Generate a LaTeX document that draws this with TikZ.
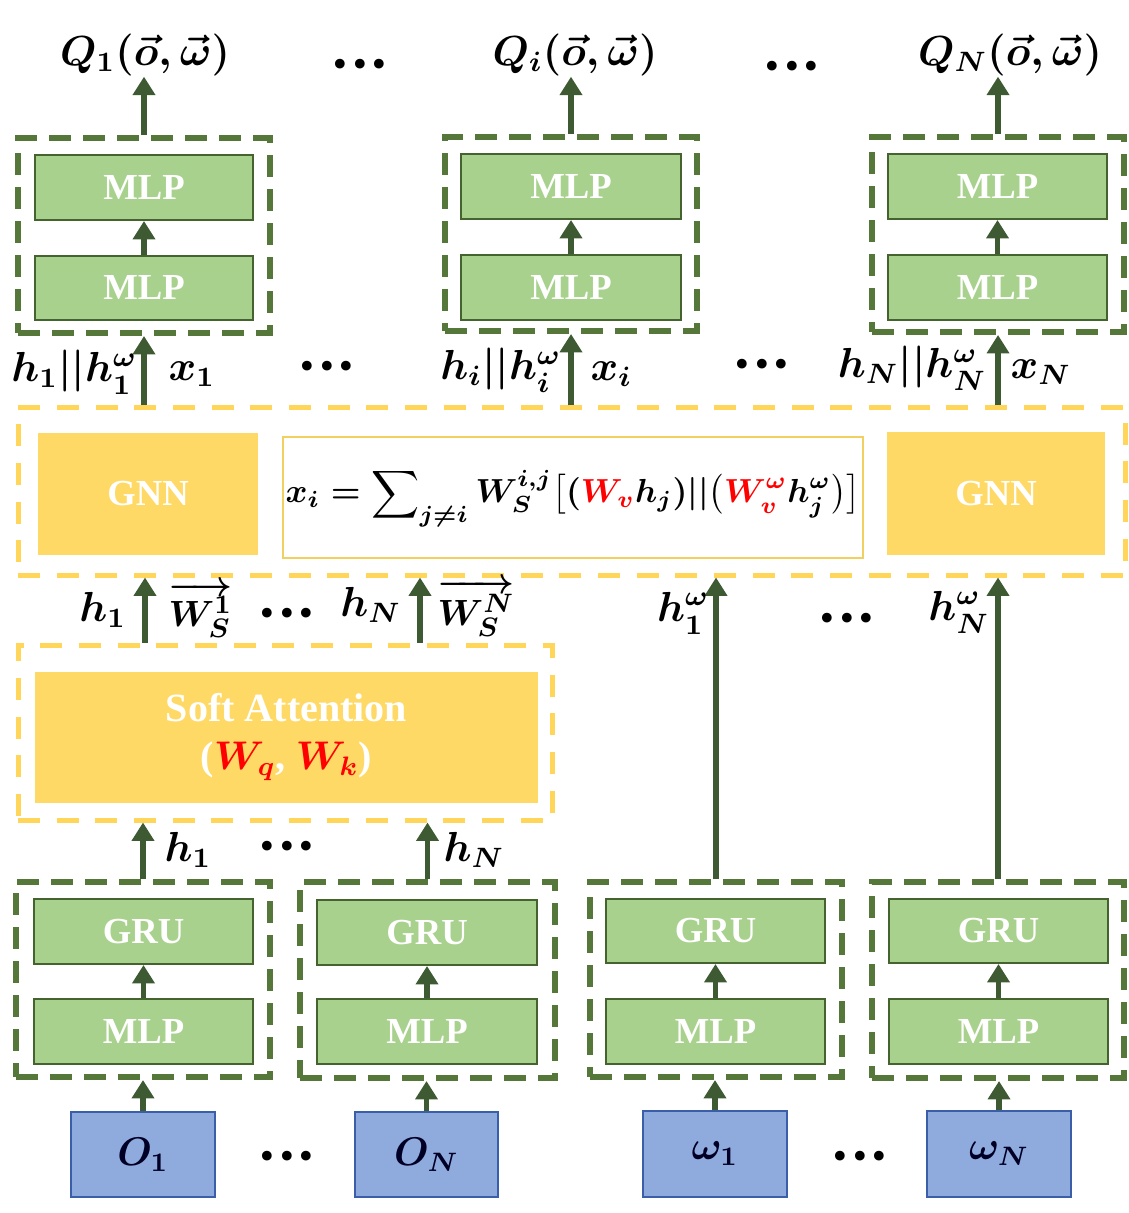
\documentclass[tikz,border=0pt]{standalone}
\usepackage{amsmath}
\usepackage{fontspec}
\newfontfamily\tnr{Liberation Serif}
\newfontfamily\djv{DejaVu Sans}
\usetikzlibrary{arrows.meta,calc}
\definecolor{gfill}{HTML}{A9D18E}
\definecolor{gline}{HTML}{44632E}
\definecolor{gdashc}{HTML}{55773A}
\definecolor{arrc}{HTML}{3D5A32}
\definecolor{yfill}{HTML}{FFD966}
\definecolor{ydashc}{HTML}{FFD659}
\definecolor{fline}{HTML}{F0D060}
\definecolor{bfill}{HTML}{8FAADC}
\definecolor{bline}{HTML}{3A5FA8}
% box from pixel corners: name, style, x1, y1, x2, y2, text
\newcommand\bx[7]{\node[#2, minimum width={(#5-#3)*0.3pt}, minimum height={(#6-#4)*0.3pt}] (#1) at ({(#3+#5)/2},{(#4+#6)/2}) {#7};}
\begin{document}
\begin{tikzpicture}[x=0.3pt,y=-0.3pt,
  gbox/.style={draw=gline, fill=gfill, line width=0.6pt, inner sep=0pt, text=white, font=\tnr\bfseries\fontsize{11}{13}\selectfont},
  gdash/.style={draw=gdashc, line width=1.8pt, dash pattern=on 6.6pt off 3.6pt, inner sep=0pt},
  ydash/.style={draw=ydashc, line width=1.5pt, dash pattern=on 6.6pt off 5pt, inner sep=0pt},
  ybox/.style={fill=yfill, inner sep=0pt, text=white, font=\tnr\bfseries\fontsize{11}{13}\selectfont},
  fbox/.style={draw=fline, fill=white, line width=0.6pt, inner sep=0pt, font=\fontsize{10}{12}\selectfont\boldmath},
  bbox/.style={draw=bline, fill=bfill, line width=0.6pt, inner sep=0pt, font=\fontsize{12}{14}\selectfont\boldmath, text=black!85!blue},
  arr/.style={draw=arrc, line width=1.6pt, -{Triangle[width=6.5pt,length=5.5pt]}},
  lbl/.style={inner sep=0pt, font=\fontsize{12}{14}\selectfont\boldmath, scale=1.05},
  slbl/.style={inner sep=0pt, font=\fontsize{10.95}{12}\selectfont\boldmath},
  dots/.style={inner sep=0pt, font=\djv\fontsize{10}{10}\selectfont}]
\useasboundingbox (0,0) rectangle (1128,1213);

% ---------- top heads ----------
\bx{hd1}{gdash}{18}{138}{270}{333}{}
\bx{m1a}{gbox}{35}{155}{253}{220}{MLP}
\bx{m1b}{gbox}{35}{256}{253}{320}{MLP}
\bx{hd2}{gdash}{445}{137}{697}{331}{}
\bx{m2a}{gbox}{461}{154}{681}{219}{MLP}
\bx{m2b}{gbox}{461}{255}{681}{320}{MLP}
\bx{hd3}{gdash}{872}{137}{1124}{332}{}
\bx{m3a}{gbox}{888}{154}{1107}{219}{MLP}
\bx{m3b}{gbox}{888}{255}{1107}{320}{MLP}

\node[lbl] (q1) at (145,55) {$Q_1(\vec{o},\vec{\omega})$};
\node[lbl] (qi) at (575,55) {$Q_i(\vec{o},\vec{\omega})$};
\node[lbl] (qn) at (1010,55) {$Q_N(\vec{o},\vec{\omega})$};
\node[dots] (dt1) at (360,68) {•••};
\node[dots] (dt2) at (792,70) {•••};

\draw[arr] (m1b.north) -- (m1a.south);
\draw[arr] (m2b.north) -- (m2a.south);
\draw[arr] (m3b.north) -- (m3a.south);
\draw[arr] (hd1.north) -- (hd1.north |- q1.south);
\draw[arr] (hd2.north) -- (hd2.north |- qi.south);
\draw[arr] (hd3.north) -- (hd3.north |- qn.south);

% ---------- GNN layer ----------
\bx{gnnbox}{ydash}{18}{408}{1125}{575}{}
\bx{gnn1}{ybox}{38}{433}{258}{555}{GNN}
\bx{form}{fbox}{283}{437}{863}{558}{$x_i=\displaystyle\sum\nolimits_{j\neq i} W_S^{i,j}\big[(\textcolor{red}{W_v}h_j)||\big(\textcolor{red}{W_v^{\omega}}h_j^{\omega}\big)\big]$}
\bx{gnn2}{ybox}{887}{432}{1105}{555}{GNN}

\draw[arr] (gnnbox.north -| hd1.south) -- (hd1.south);
\draw[arr] (gnnbox.north -| hd2.south) -- (hd2.south);
\draw[arr] (gnnbox.north -| hd3.south) -- (hd3.south);

\node[lbl, anchor=east] (l1) at (138,372) {$h_1||h_1^{\omega}$};
\node[lbl, anchor=west] (x1) at (168,374) {$x_1$};
\node[dots] (dt3) at (327,370) {•••};
\node[lbl, anchor=east] (li) at (562,370) {$h_i||h_i^{\omega}$};
\node[lbl, anchor=west] (xi) at (590,374) {$x_i$};
\node[dots] (dt4) at (762,368) {•••};
\node[lbl, anchor=east] (ln) at (987,368) {$h_N||h_N^{\omega}$};
\node[lbl, anchor=west] (xn) at (1010,372) {$x_N$};

% ---------- soft attention ----------
\bx{sabox}{ydash}{18}{645}{552}{820}{}
\bx{sa}{ybox, align=center, font=\tnr\bfseries\fontsize{12}{14.4}\selectfont}{35}{672}{538}{803}{Soft Attention\\(\textcolor{red}{\boldmath$W_q$}, \textcolor{red}{\boldmath$W_k$})}

% ---------- bottom encoders ----------
\bx{gA}{gdash}{16}{882}{270}{1077}{}
\bx{gruA}{gbox}{34}{899}{253}{964}{GRU}
\bx{mlpA}{gbox}{34}{999}{253}{1064}{MLP}
\bx{gB}{gdash}{300}{882}{555}{1078}{}
\bx{gruB}{gbox}{317}{900}{537}{965}{GRU}
\bx{mlpB}{gbox}{317}{999}{537}{1064}{MLP}
\bx{gC}{gdash}{590}{882}{842}{1077}{}
\bx{gruC}{gbox}{606}{899}{825}{963}{GRU}
\bx{mlpC}{gbox}{606}{999}{825}{1064}{MLP}
\bx{gD}{gdash}{872}{882}{1124}{1078}{}
\bx{gruD}{gbox}{889}{899}{1108}{963}{GRU}
\bx{mlpD}{gbox}{889}{999}{1108}{1064}{MLP}

\bx{o1}{bbox}{71}{1112}{215}{1197}{$O_1$}
\bx{on}{bbox}{355}{1112}{498}{1197}{$O_N$}
\bx{w1}{bbox}{643}{1111}{787}{1197}{$\omega_1$}
\bx{wn}{bbox}{927}{1111}{1071}{1197}{$\omega_N$}
\node[dots] (dt5) at (287,1160) {•••};
\node[dots] (dt6) at (860,1160) {•••};

\draw[arr] (mlpA.north) -- (gruA.south);
\draw[arr] (mlpB.north) -- (gruB.south);
\draw[arr] (mlpC.north) -- (gruC.south);
\draw[arr] (mlpD.north) -- (gruD.south);
\draw[arr] (o1.north) -- (o1.north |- gA.south);
\draw[arr] (on.north) -- (on.north |- gB.south);
\draw[arr] (w1.north) -- (w1.north |- gC.south);
\draw[arr] (wn.north) -- (wn.north |- gD.south);

% encoders -> attention
\draw[arr] (gA.north) -- (sabox.south -| gA.north);
\draw[arr] (gB.north) -- (sabox.south -| gB.north);
\node[lbl, anchor=west] (ha) at (164,850) {$h_1$};
\node[dots] (dt7) at (287,850) {•••};
\node[lbl, anchor=west] (hb) at (443,850) {$h_N$};

% attention -> GNN
\coordinate (cA) at (145,0);
\coordinate (cB) at (420,0);
\draw[arr] (sabox.north -| cA) -- (gnnbox.south -| cA);
\draw[arr] (sabox.north -| cB) -- (gnnbox.south -| cB);
\node[lbl, anchor=east] (s1) at (127,610) {$h_1$};
\node[slbl, anchor=west] (ws1) at (168,610) {$\overrightarrow{W_S^1}$};
\node[dots] (dt8) at (287,617) {•••};
\node[lbl, anchor=east] (sn) at (402,605) {$h_N$};
\node[slbl, anchor=west] (wsn) at (437,608) {$\overrightarrow{W_S^N}$};

% omega encoders -> GNN
\draw[arr] (gC.north) -- (gnnbox.south -| gC.north);
\draw[arr] (gD.north) -- (gnnbox.south -| gD.north);
\node[lbl, anchor=east] (hw1) at (710,613) {$h_1^{\omega}$};
\node[dots] (dt9) at (847,622) {•••};
\node[lbl, anchor=east] (hwn) at (990,612) {$h_N^{\omega}$};
\end{tikzpicture}
\end{document}
